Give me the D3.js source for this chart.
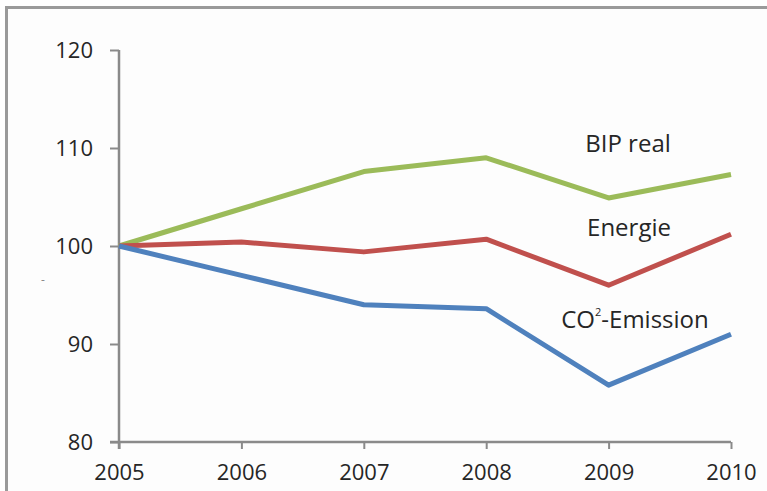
<!DOCTYPE html>
<html>
<head>
<meta charset="utf-8">
<script src="https://cdn.jsdelivr.net/npm/d3@7"></script>
<style>
  html, body { margin: 0; padding: 0; background: #fff; }
  svg { display: block; }
  .tick text { font-family: "Open Sans", "Liberation Sans", sans-serif; fill: #262626; }
</style>
</head>
<body>
<svg id="chart" width="767" height="491"></svg>
<script>
// Index values, 2005 = 100
const years = [2005, 2006, 2007, 2008, 2009, 2010];
const bipReal = [100, 103.8, 107.6, 109.0, 104.9, 107.3];
const energie = [100, 100.4, 99.4, 100.7, 96.0, 101.2];
const co2Emission = [100, 97.0, 94.0, 93.6, 85.8, 91.0];
const yTicks = [80, 90, 100, 110, 120];

const series = [
  { name: "BIP real", values: bipReal, color: "#9bbb59" },
  { name: "Energie", values: energie, color: "#c0504d" },
  { name: "CO2-Emission", values: co2Emission, color: "#4f81bd" }
];

const svg = d3.select("#chart");
const W = 767, H = 491;

// chart frame
svg.append("rect")
  .attr("x", 6.5).attr("y", 7.5)
  .attr("width", W + 10).attr("height", H + 10)
  .attr("fill", "#fdfdfd")
  .attr("stroke", "#9a9a9a").attr("stroke-width", 3);

const x = d3.scalePoint().domain(years).range([119, 731]);
const y = d3.scaleLinear().domain([80, 120]).range([442, 50]);

const axisColor = "#8a8a8a";

// y axis
const yAxis = svg.append("g")
  .attr("transform", "translate(119,0)")
  .call(d3.axisLeft(y).tickValues(yTicks).tickSize(9).tickPadding(17));
yAxis.select(".domain").attr("stroke", axisColor).attr("stroke-width", 2.5)
  .attr("d", `M0,${y(120)}V${y(80) + 7}`);
yAxis.selectAll(".tick line").attr("stroke", axisColor).attr("stroke-width", 2);
yAxis.selectAll(".tick text").attr("font-size", 22);

// x axis
const xAxis = svg.append("g")
  .attr("transform", `translate(0,${y(80)})`)
  .call(d3.axisBottom(x).tickSize(7).tickPadding(15));
xAxis.select(".domain").attr("stroke", axisColor).attr("stroke-width", 2.5)
  .attr("d", `M110,0H${x(2010)}`);
xAxis.selectAll(".tick line").attr("stroke", axisColor).attr("stroke-width", 2);
xAxis.selectAll(".tick text").attr("font-size", 22);

// small y-axis title mark
svg.append("text")
  .attr("x", 43).attr("y", 284)
  .attr("text-anchor", "middle")
  .attr("font-family", "Open Sans, sans-serif")
  .attr("font-size", 12).attr("fill", "#888")
  .text("-");

// series lines
const line = d3.line()
  .x((d, i) => x(years[i]))
  .y(d => y(d));

svg.selectAll("path.series")
  .data(series)
  .join("path")
  .attr("class", "series")
  .attr("fill", "none")
  .attr("stroke", d => d.color)
  .attr("stroke-width", 5)
  .attr("stroke-linejoin", "round")
  .attr("d", d => line(d.values));

// series labels
const labelFont = "Open Sans, Liberation Sans, sans-serif";
const labelSize = 24;
svg.append("text")
  .attr("x", 628).attr("y", 152)
  .attr("text-anchor", "middle")
  .attr("font-family", labelFont).attr("font-size", labelSize).attr("fill", "#262626")
  .text("BIP real");

svg.append("text")
  .attr("x", 629).attr("y", 236)
  .attr("text-anchor", "middle")
  .attr("font-family", labelFont).attr("font-size", labelSize).attr("fill", "#262626")
  .text("Energie");

const co2 = svg.append("text")
  .attr("x", 635).attr("y", 328)
  .attr("text-anchor", "middle")
  .attr("font-family", labelFont).attr("font-size", labelSize).attr("fill", "#262626");
co2.append("tspan").text("CO");
co2.append("tspan").attr("font-size", 11).attr("dy", -12).text("2");
co2.append("tspan").attr("dy", 12).text("-Emission");
</script>
</body>
</html>
